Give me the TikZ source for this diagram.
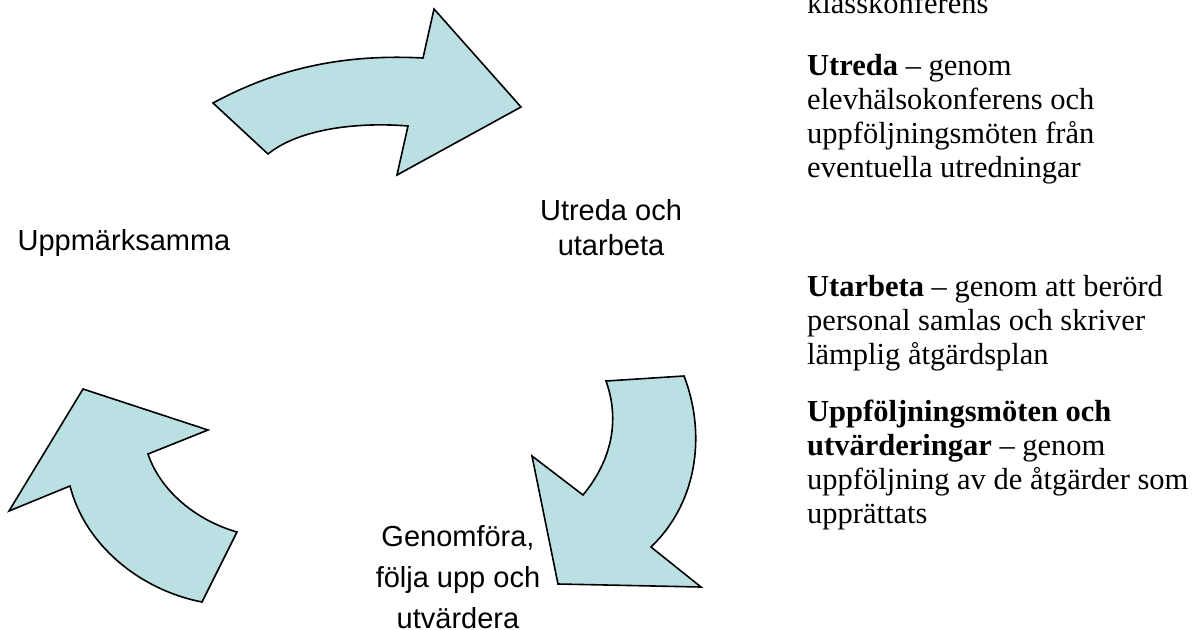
\documentclass[tikz,border=0pt]{standalone}
\usepackage{fontspec}
\setmainfont{Liberation Serif}
\newfontfamily\labelfont{Liberation Sans}
\definecolor{arrowfill}{RGB}{187,224,227}

\begin{document}
\begin{tikzpicture}[x=1pt,y=-1pt,
    curlarrow/.style={fill=arrowfill,draw=black,line width=1.6pt,line join=miter},
    step label/.style={font=\labelfont\fontsize{29}{35}\selectfont,align=center,inner sep=0pt},
    note/.style={font=\fontsize{30.5}{34}\selectfont,align=left,anchor=base west,inner sep=0pt}]
    \useasboundingbox (0,0) rectangle (1199,629);
    \clip (0,0) rectangle (1199,629);

    % top arrow
    \draw[curlarrow] (213,103) .. controls (265,75) and (330,53) .. (423,58)
        -- (434,9) -- (521,107) -- (397,175) -- (408,126)
        .. controls (360,122) and (300,128) .. (268,154) -- cycle;
    % right arrow
    \draw[curlarrow] (606,381) -- (684,376) .. controls (705,430) and (700,500) .. (651,547)
        -- (701,587) -- (558,584) -- (532,456) -- (583,495)
        .. controls (612,460) and (620,420) .. (606,381) -- cycle;
    % left arrow
    \draw[curlarrow] (202,602) -- (237,532) .. controls (195,520) and (160,490) .. (148,454)
        -- (208,430) -- (83,389) -- (9,511) -- (70,486)
        .. controls (85,545) and (140,590) .. (202,602) -- cycle;

    \node[step label] (notice) at (124,243) {Uppmärksamma};
    \node[step label] (examine) at (611,228) {Utreda och\\utarbeta};
    \node[step label,font=\labelfont\fontsize{29}{41}\selectfont] (carry) at (458,577) {Genomföra,\\följa upp och\\utvärdera};

    % notes sit on the baseline of their last line
    \node[note] (conf) at (807,13) {klasskonferens};
    \node[note] (inquire) at (807,177) {\textbf{Utreda} -- genom\\elevhälsokonferens och\\uppföljningsmöten från\\eventuella utredningar};
    \node[note] (plan) at (807,364) {\textbf{Utarbeta} -- genom att berörd\\personal samlas och skriver\\lämplig åtgärdsplan};
    \node[note] (followup) at (807,523) {\textbf{Uppföljningsmöten och}\\\textbf{utvärderingar} -- genom\\uppföljning av de åtgärder som\\upprättats};
\end{tikzpicture}
\end{document}
